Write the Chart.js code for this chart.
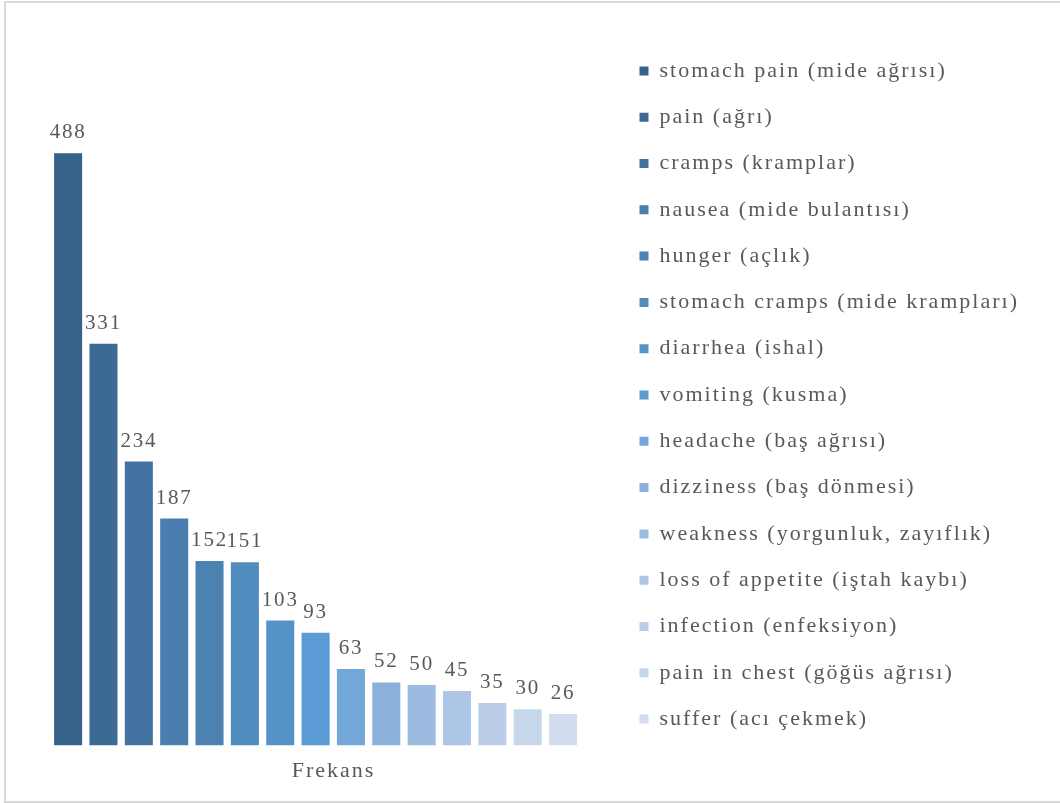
<!DOCTYPE html>
<html>
<head>
<meta charset="utf-8">
<script src="https://cdn.jsdelivr.net/npm/chart.js@4.4.1/dist/chart.umd.min.js"></script>
<style>
  html, body { margin: 0; padding: 0; background: #ffffff; overflow: hidden; }
  #wrap { position: relative; width: 1060px; height: 803px; }
  #frame {
    position: absolute; left: 4px; top: 1px; width: 1100px; height: 798px;
    border: 2px solid #d9d9d9; pointer-events: none;
  }
  canvas { position: absolute; left: 0; top: 0; }
</style>
</head>
<body>
<div id="wrap">
  <canvas id="chart" width="1060" height="803"></canvas>
  <div id="frame"></div>
</div>
<script>
// Single category on the x axis
const categories = ['Frekans'];

// One series per reported symptom (English term with Turkish in brackets)
const symptoms = [
  'stomach pain (mide ağrısı)',
  'pain (ağrı)',
  'cramps (kramplar)',
  'nausea (mide bulantısı)',
  'hunger (açlık)',
  'stomach cramps (mide krampları)',
  'diarrhea (ishal)',
  'vomiting (kusma)',
  'headache (baş ağrısı)',
  'dizziness (baş dönmesi)',
  'weakness (yorgunluk, zayıflık)',
  'loss of appetite (iştah kaybı)',
  'infection (enfeksiyon)',
  'pain in chest (göğüs ağrısı)',
  'suffer (acı çekmek)'
];

// Frequency of each symptom
const frequencies = [488, 331, 234, 187, 152, 151, 103, 93, 63, 52, 50, 45, 35, 30, 26];

// Monochrome blue palette, dark to light
const barColors = [
  '#37628a', '#3d6a95', '#4372a0', '#4a7eae', '#4c82b2',
  '#508cbe', '#5592c6', '#5b9bd5', '#74a7d9', '#8bb0dc',
  '#9cbbe0', '#adc6e5', '#bacfe7', '#c6d7ec', '#d2deef'
];

const FONT_FAMILY = "'Liberation Serif', 'Times New Roman', serif";
const TEXT_COLOR = '#595959';
const LETTER_SPACING = '2px';

// Slightly wider tracking for all canvas text
const trackingPlugin = {
  id: 'tracking',
  beforeUpdate(chart) { chart.ctx.letterSpacing = LETTER_SPACING; },
  beforeLayout(chart) { chart.ctx.letterSpacing = LETTER_SPACING; },
  beforeDraw(chart) { chart.ctx.letterSpacing = LETTER_SPACING; }
};

// Value labels above each bar
const valueLabelPlugin = {
  id: 'valueLabels',
  afterDatasetsDraw(chart) {
    const ctx = chart.ctx;
    ctx.save();
    ctx.letterSpacing = '1.8px';
    ctx.font = `21px ${FONT_FAMILY}`;
    ctx.fillStyle = TEXT_COLOR;
    ctx.textAlign = 'center';
    ctx.textBaseline = 'alphabetic';
    chart.data.datasets.forEach((ds, di) => {
      const meta = chart.getDatasetMeta(di);
      meta.data.forEach((bar, i) => {
        ctx.fillText(String(ds.data[i]), bar.x, bar.y - 15);
      });
    });
    ctx.restore();
  }
};

const datasets = symptoms.map((name, i) => ({
  label: name,
  data: [frequencies[i]],
  backgroundColor: barColors[i],
  borderWidth: 0,
  categoryPercentage: 0.885,
  barPercentage: 0.793
}));

new Chart(document.getElementById('chart'), {
  type: 'bar',
  data: { labels: categories, datasets },
  plugins: [trackingPlugin, valueLabelPlugin],
  options: {
    responsive: false,
    animation: false,
    devicePixelRatio: 1,
    layout: { padding: { left: 16, right: 31, top: 2, bottom: 15 } },
    scales: {
      x: {
        grid: { display: false },
        border: { display: false },
        ticks: {
          color: TEXT_COLOR,
          font: { family: FONT_FAMILY, size: 22 },
          padding: 4,
          labelOffset: 18
        }
      },
      y: { display: false, min: 0, max: 612.5 }
    },
    plugins: {
      tooltip: { enabled: false },
      legend: {
        position: 'right',
        align: 'center',
        labels: {
          boxWidth: 9,
          boxHeight: 9,
          padding: 24.3,
          color: TEXT_COLOR,
          font: { family: FONT_FAMILY, size: 22 }
        }
      }
    }
  }
});
</script>
</body>
</html>
